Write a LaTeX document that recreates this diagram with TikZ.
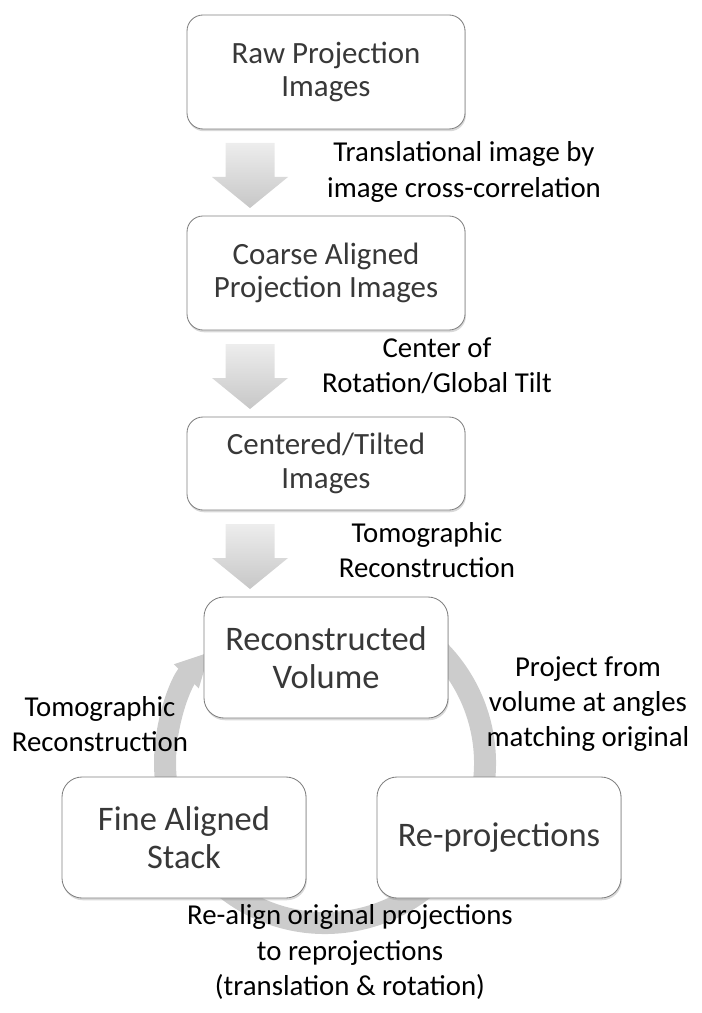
\documentclass[tikz,border=0pt]{standalone}
\usepackage{fontspec}
\setmainfont{Carlito}
\usepackage{tikz}
\usetikzlibrary{positioning}
\usetikzlibrary{calc,shadows,backgrounds}
\usetikzlibrary{arrows.meta}

\begin{document}
\begin{tikzpicture}[node distance=2.175cm,outer sep=0pt,
  procbox/.style={draw=black!50, line width=0.6pt, fill=white, rounded corners=0.4cm,
    text=black!78, align=center, minimum width=6.95cm, font=\fontsize{22}{24}\selectfont,
    drop shadow={shadow xshift=0.6pt, shadow yshift=-1.6pt, opacity=0.3}},
  cyclebox/.style={procbox, rounded corners=0.5cm, minimum width=6.1cm,
    minimum height=3.025cm, font=\fontsize{24.5}{27.5}\selectfont},
  note/.style={align=center, text=black, font=\fontsize{20.5}{25}\selectfont},
  ring/.style={draw=black!20, line width=0.55cm, -{Triangle[width=0.8cm,length=0.85cm]}},
  fatarrow/.pic={\shade[top color=black!7, bottom color=black!22]
    (-0.6125,0) -- (0.6125,0) -- (0.6125,-0.85) -- (0.95,-0.85) -- (0,-1.625)
    -- (-0.95,-0.85) -- (-0.6125,-0.85) -- cycle;}]

\useasboundingbox (0,0) rectangle (17.525,-25.325);

% Process column
\node [procbox, minimum height=2.85cm] (raw) at (8.15,-1.8) {Raw Projection\\Images};
\node [procbox, minimum height=2.85cm, below=of raw] (coarse) {Coarse Aligned\\Projection Images};
\node [procbox, minimum height=2.325cm, below=of coarse] (centered) {Centered/Tilted\\Images};

\pic at ($(raw.south)+(-1.9,-0.35)$) {fatarrow};
\pic at ($(coarse.south)+(-1.9,-0.35)$) {fatarrow};
\pic at ($(centered.south)+(-1.9,-0.35)$) {fatarrow};

% Refinement cycle
\node [cyclebox, below=of centered] (volume) {Reconstructed\\Volume};
\node [cyclebox, below=1.475cm of volume, xshift=-3.55cm] (fine) {Fine Aligned\\Stack};
\node [cyclebox, below=1.475cm of volume, xshift=4.325cm] (reproj) {Re-projections};

\coordinate (hub) at ($(volume.center)+(-0.025,-2.6375)$);
\begin{scope}[on background layer]
\draw[ring] ([shift={(60:4cm)}]hub) arc[start angle=60, end angle=-224, radius=4cm];
\end{scope}

% Step labels
\node [note] (shiftnote) at (11.6,-4.3) {Translational image by\\image cross-correlation};
\node [note] (cornote) at (10.925,-9.15) {Center of\\Rotation/Global Tilt};
\node [note] (tomonote) at (10.675,-13.75) {Tomographic\\Reconstruction};
\node [note] (projnote) at (14.7,-17.6) {Project from\\volume at angles\\matching original};
\node [note] (backnote) at (2.5,-18.1) {Tomographic\\Reconstruction};
\node [note] (alignnote) at (8.75,-23.8) {Re-align original projections\\to reprojections\\(translation \& rotation)};

\end{tikzpicture}
\end{document}
